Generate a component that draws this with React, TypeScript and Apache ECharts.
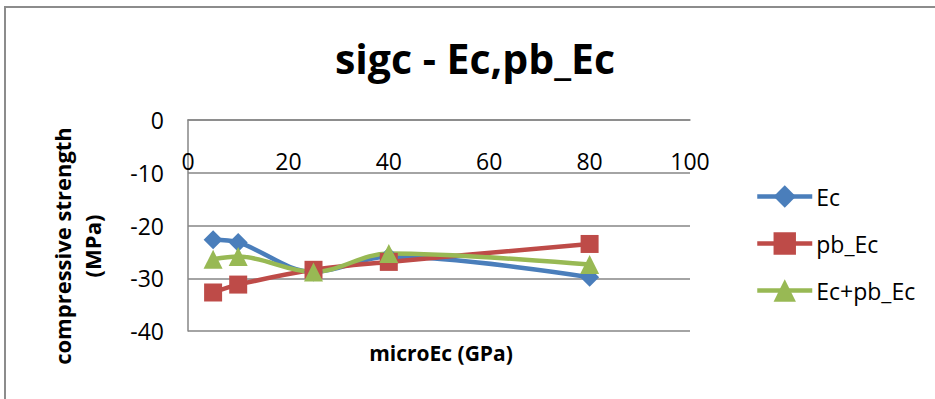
import React, { useEffect, useRef } from "react";
import * as echarts from "echarts";

const xValues = [5, 10, 25, 40, 80];
const ecValues = [-22.7, -23.2, -28.8, -25.9, -29.8];
const pbEcValues = [-32.7, -31.2, -28.4, -26.9, -23.5];
const sumValues = [-26.4, -25.9, -28.8, -25.3, -27.4];
const seriesNames = ["Ec", "pb_Ec", "Ec+pb_Ec"];
const titleText = "sigc - Ec,pb_Ec";
const xTitle = "microEc (GPa)";
const yTitle = "compressive strength\n(MPa)";

const FONT = "'Open Sans', 'Liberation Sans', sans-serif";

export default function App() {
  const ref = useRef<HTMLDivElement>(null);
  useEffect(() => {
    if (!ref.current) return;
    const chart = echarts.init(ref.current, null, { renderer: "svg" });
    const pair = (ys: number[]) => xValues.map((x, i) => [x, ys[i]]);
    const gray = "#868686";
    chart.setOption({
      animation: false,
      backgroundColor: "#ffffff",
      textStyle: { fontFamily: FONT },
      grid: { left: 188, top: 120, right: 245, bottom: 68 },
      xAxis: {
        type: "value",
        min: 0,
        max: 100,
        interval: 20,
        position: "top",
        axisLine: { onZero: false, lineStyle: { color: gray, width: 1.5 } },
        axisTick: { show: false },
        axisLabel: { inside: true, color: "#000", fontSize: 23, margin: 29, fontFamily: FONT },
        splitLine: { show: false },
      },
      yAxis: {
        type: "value",
        min: -40,
        max: 0,
        interval: 10,
        axisLine: { show: true, onZero: false, lineStyle: { color: gray, width: 1.5 } },
        axisTick: { show: false },
        axisLabel: { color: "#000", fontSize: 23, margin: 24, fontFamily: FONT },
        splitLine: { show: true, lineStyle: { color: gray, width: 1.5 } },
      },
      legend: {
        orient: "vertical",
        left: 755,
        top: 185,
        padding: 0,
        itemWidth: 55,
        itemHeight: 28,
        itemGap: 24,
        lineStyle: { width: 4.5 },
        textStyle: { fontSize: 23, color: "#000", fontFamily: FONT, padding: [0, 0, 0, -1] },
        data: seriesNames,
      },
      graphic: [
        {
          type: "rect",
          shape: { x: 5, y: 7, width: 1200, height: 800 },
          style: { fill: "none", stroke: "#8c8c8c", lineWidth: 2 },
          silent: true,
        },
        {
          type: "text",
          x: 475,
          y: 58,
          style: {
            text: titleText,
            textAlign: "center",
            textVerticalAlign: "middle",
            fontSize: 41,
            fontWeight: "bold",
            fontFamily: FONT,
            fill: "#000",
          },
        },
        {
          type: "text",
          x: 441,
          y: 353,
          style: {
            text: xTitle,
            textAlign: "center",
            textVerticalAlign: "middle",
            fontSize: 21,
            fontWeight: "bold",
            fontFamily: FONT,
            fill: "#000",
          },
        },
        {
          type: "text",
          x: 77,
          y: 246,
          rotation: Math.PI / 2,
          style: {
            text: yTitle,
            textAlign: "center",
            textVerticalAlign: "middle",
            fontSize: 22,
            lineHeight: 30,
            fontWeight: "bold",
            fontFamily: FONT,
            fill: "#000",
          },
        },
      ],
      series: [
        {
          name: seriesNames[0],
          type: "line",
          data: pair(ecValues),
          smooth: 0.35,
          symbol: "diamond",
          symbolSize: 19,
          color: "#4a7ebb",
          lineStyle: { width: 4.5, color: "#4a7ebb" },
          itemStyle: { color: "#4a7ebb" },
        },
        {
          name: seriesNames[1],
          type: "line",
          data: pair(pbEcValues),
          smooth: 0.35,
          symbol: "rect",
          symbolSize: 18,
          color: "#be4b48",
          lineStyle: { width: 4.5, color: "#be4b48" },
          itemStyle: { color: "#be4b48" },
        },
        {
          name: seriesNames[2],
          type: "line",
          data: pair(sumValues),
          smooth: 0.35,
          symbol: "triangle",
          symbolSize: 19,
          color: "#98b954",
          lineStyle: { width: 4.5, color: "#98b954" },
          itemStyle: { color: "#98b954" },
        },
      ],
    });
    return () => chart.dispose();
  }, []);
  return (
    <div
      ref={ref}
      style={{ position: "fixed", left: 0, top: 0, width: 935, height: 399 }}
    />
  );
}
